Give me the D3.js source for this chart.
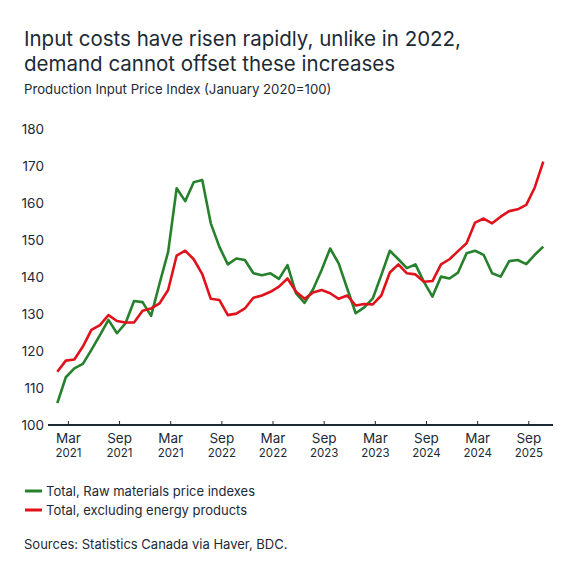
<!DOCTYPE html>
<html>
<head>
<meta charset="utf-8">
<script src="https://cdn.jsdelivr.net/npm/d3@7"></script>
<style>
  body { margin: 0; background: #fff; }
  svg { display: block; font-family: Inter, "Noto Sans", sans-serif; }
</style>
</head>
<body>
<div id="chart"></div>
<script>
// monthly index values
const rawMaterials = [
  105.9, 112.9, 115.3, 116.5, 120.3, 124.3, 128.4, 124.8, 127.5, 133.5,
  133.2, 129.5, 138.3, 146.8, 164.0, 160.5, 165.6, 166.2, 154.5, 148.2,
  143.4, 145.0, 144.6, 141.0, 140.5, 141.0, 139.5, 143.2, 135.6, 133.0,
  136.7, 141.9, 147.7, 143.7, 136.9, 130.2, 131.8, 134.2, 140.5, 147.1,
  144.8, 142.4, 143.4, 138.7, 134.7, 140.1, 139.6, 141.2, 146.4, 147.1,
  146.0, 141.0, 140.1, 144.3, 144.6, 143.5, 146.0, 148.2
];
const exEnergy = [
  114.4, 117.4, 117.7, 121.2, 125.7, 127.0, 129.7, 128.1, 127.7, 127.7,
  130.9, 131.5, 132.9, 136.5, 145.8, 147.1, 144.8, 140.8, 134.1, 133.8,
  129.7, 130.1, 131.5, 134.4, 135.0, 136.0, 137.4, 139.6, 136.0, 134.1,
  135.8, 136.5, 135.6, 134.1, 135.0, 132.3, 132.7, 132.6, 135.0, 141.2,
  143.4, 141.0, 140.7, 138.7, 138.9, 143.4, 144.8, 147.0, 149.1, 154.7,
  155.8, 154.5, 156.3, 157.8, 158.3, 159.5, 164.2, 171.2
];
const tickMonths = ['Mar', 'Sep', 'Mar', 'Sep', 'Mar', 'Sep', 'Mar', 'Sep', 'Mar', 'Sep'];
const tickYears = ['2021', '2021', '2021', '2022', '2022', '2023', '2023', '2024', '2024', '2025'];
const yTicks = [100, 110, 120, 130, 140, 150, 160, 170, 180];
const seriesNames = ['Total, Raw materials price indexes', 'Total, excluding energy products'];

const width = 575, height = 575;
const ink = '#1c2a36';
const colors = ['#26802c', '#e0121b'];

const svg = d3.select('#chart').append('svg')
  .attr('width', width)
  .attr('height', height);

const x = d3.scaleLinear()
  .domain([0, rawMaterials.length - 1])
  .range([57.3, 543.3]);

const y = d3.scaleLinear()
  .domain([100, 180])
  .range([425, 129]);

// titles
svg.append('text')
  .attr('x', 24).attr('y', 46)
  .attr('font-size', 20.5).attr('fill', ink)
  .text('Input costs have risen rapidly, unlike in 2022,');
svg.append('text')
  .attr('x', 24).attr('y', 71)
  .attr('font-size', 20.5).attr('fill', ink)
  .text('demand cannot offset these increases');
svg.append('text')
  .attr('x', 24).attr('y', 94)
  .attr('font-size', 13.2).attr('fill', ink)
  .text('Production Input Price Index (January 2020=100)');

// y axis labels (no line)
svg.append('g')
  .selectAll('text')
  .data(yTicks)
  .join('text')
    .attr('x', 44)
    .attr('y', d => y(d))
    .attr('dy', '0.35em')
    .attr('text-anchor', 'end')
    .attr('font-size', 13.5)
    .attr('fill', ink)
    .text(d => d);

// x axis
const tickIdx = tickMonths.map((m, i) => 1.3 + 6 * i);
const xAxis = svg.append('g');
xAxis.append('line')
  .attr('x1', 48).attr('x2', 553)
  .attr('y1', y(100)).attr('y2', y(100))
  .attr('stroke', ink).attr('stroke-width', 2);
xAxis.selectAll('.tick')
  .data(tickIdx)
  .join('line')
    .attr('class', 'tick')
    .attr('x1', d => x(d)).attr('x2', d => x(d))
    .attr('y1', y(100)).attr('y2', y(100) - 4)
    .attr('stroke', ink).attr('stroke-width', 1);
xAxis.selectAll('.mon')
  .data(tickIdx)
  .join('text')
    .attr('class', 'mon')
    .attr('x', d => x(d)).attr('y', 443)
    .attr('text-anchor', 'middle')
    .attr('font-size', 13.5).attr('fill', ink)
    .text((d, i) => tickMonths[i]);
xAxis.selectAll('.yr')
  .data(tickIdx)
  .join('text')
    .attr('class', 'yr')
    .attr('x', d => x(d)).attr('y', 457)
    .attr('text-anchor', 'middle')
    .attr('font-size', 11.5).attr('fill', ink)
    .text((d, i) => tickYears[i]);

// lines
const line = d3.line()
  .x((d, i) => x(i))
  .y(d => y(d));

[rawMaterials, exEnergy].forEach((s, k) => {
  svg.append('path')
    .datum(s)
    .attr('fill', 'none')
    .attr('stroke', colors[k])
    .attr('stroke-width', 2.6)
    .attr('stroke-linejoin', 'round')
    .attr('d', line);
});

// legend
const legend = svg.append('g');
seriesNames.forEach((name, k) => {
  const ly = 491 + k * 19;
  legend.append('line')
    .attr('x1', 25).attr('x2', 42)
    .attr('y1', ly).attr('y2', ly)
    .attr('stroke', colors[k]).attr('stroke-width', 3);
  legend.append('text')
    .attr('x', 46).attr('y', ly)
    .attr('dy', '0.35em')
    .attr('font-size', 13).attr('fill', ink)
    .text(name);
});

svg.append('text')
  .attr('x', 24).attr('y', 549)
  .attr('font-size', 13).attr('fill', ink)
  .text('Sources: Statistics Canada via Haver, BDC.');
</script>
</body>
</html>
